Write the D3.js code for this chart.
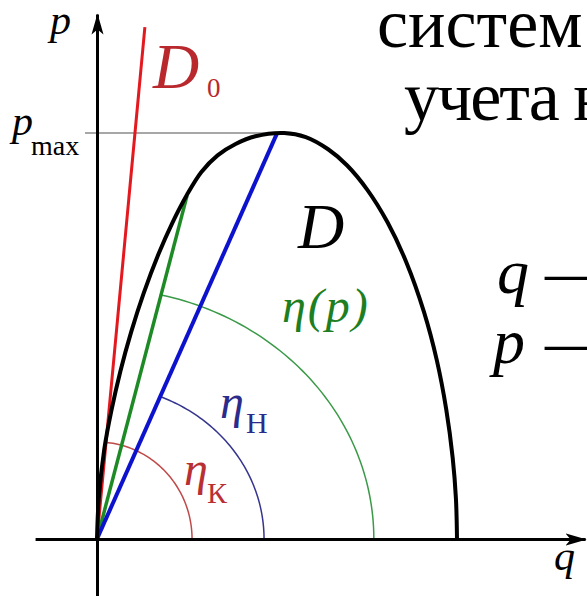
<!DOCTYPE html>
<html>
<head>
<meta charset="utf-8">
<script src="https://cdn.jsdelivr.net/npm/d3@7"></script>
<style>
  body { margin: 0; background: #fff; }
  svg { display: block; }
  text { font-family: "Liberation Serif", "Times New Roman", serif; }
</style>
</head>
<body>
<svg id="chart" width="587" height="596"></svg>
<script>
// boundary D of the region in the (q, p) plane, p in units of p_max
const boundaryQ = [0, 0.005, 0.02, 0.04, 0.065, 0.095, 0.13, 0.17, 0.21, 0.25, 0.29, 0.335, 0.385, 0.44, 0.52,
                   0.58, 0.642, 0.695, 0.751, 0.807, 0.86, 0.908, 0.944, 0.97, 0.988, 0.997, 1.0];
const boundaryP = [0, 0.1, 0.22, 0.316, 0.413, 0.51, 0.606, 0.70, 0.78, 0.848, 0.904, 0.945, 0.973, 0.992, 1.0,
                   0.99, 0.96, 0.92, 0.86, 0.78, 0.68, 0.56, 0.44, 0.32, 0.2, 0.1, 0];

// rays from the origin: D0, eta(p) and the one through p_max
const rayNames = ["D0", "eta_p", "eta_H"];
const rayQ = [0.133, 0.25, 0.5];
const rayP = [1.261, 0.845, 0.999];

// angle arcs: semi-axes along q and p, and the ray each one ends on
const arcNames = ["eta_K", "eta_H", "eta_p"];
const arcRq = [0.264, 0.464, 0.769];
const arcRp = [0.239, 0.379, 0.618];
const arcRay = ["D0", "eta_H", "eta_p"];

const pMax = 1.0;
const qAtPmax = 0.5;
const qExtent = [-0.172, 1.356];
const pExtent = [-0.14, 1.293];

const svg = d3.select("#chart");

let x = d3.scaleLinear().domain([0, 1]).range([97, 457]);
let y = d3.scaleLinear().domain([0, 1]).range([539, 133]);

const rayColor = {D0: "#e3191f", eta_p: "#1e8a26", eta_H: "#0d12cc"};
const rayWidth = {D0: 3, eta_p: 3.5, eta_H: 4};
const arcColor = {eta_K: "#c04a4a", eta_H: "#35358f", eta_p: "#3b9a48"};

let line = d3.line().x(d => x(d[0])).y(d => y(d[1]));

// p_max guide
svg.append("line")
    .attr("x1", x(0) - 12).attr("y1", y(pMax))
    .attr("x2", x(qAtPmax)).attr("y2", y(pMax))
    .attr("stroke", "#8a8a8a").attr("stroke-width", 1.6);

// arcs
arcNames.forEach((name, i) => {
    let r = rayNames.indexOf(arcRay[i]);
    let tEnd = Math.atan2(rayP[r] / arcRp[i], rayQ[r] / arcRq[i]);
    let pts = d3.range(0, 61).map(k => {
        let t = tEnd * k / 60;
        return [arcRq[i] * Math.cos(t), arcRp[i] * Math.sin(t)];
    });
    svg.append("path")
        .datum(pts)
        .attr("fill", "none")
        .attr("stroke", arcColor[name])
        .attr("stroke-width", 1.5)
        .attr("d", line);
});

// rays
rayNames.forEach((name, i) => {
    svg.append("path")
        .datum([[0, 0], [rayQ[i], rayP[i]]])
        .attr("fill", "none")
        .attr("stroke", rayColor[name])
        .attr("stroke-width", rayWidth[name])
        .attr("d", line);
});

// boundary D
svg.append("path")
    .datum(boundaryQ.map((q, i) => [q, boundaryP[i]]))
    .attr("fill", "none")
    .attr("stroke", "#000")
    .attr("stroke-width", 4)
    .attr("d", d3.line().x(d => x(d[0])).y(d => y(d[1])).curve(d3.curveCatmullRom.alpha(0.5)));

// axes with arrow heads
svg.append("defs").append("marker")
    .attr("id", "arrow")
    .attr("markerUnits", "userSpaceOnUse")
    .attr("viewBox", "0 -7 22 14")
    .attr("refX", 20).attr("refY", 0)
    .attr("markerWidth", 22).attr("markerHeight", 14)
    .attr("orient", "auto")
    .append("path")
    .attr("d", "M0,-6L21,0L0,6L5,0Z")
    .attr("fill", "#000");

let qAxis = d3.scaleLinear().domain(qExtent).range(qExtent.map(x));
let pAxis = d3.scaleLinear().domain(pExtent).range(pExtent.map(y));

let gq = svg.append("g")
    .attr("transform", "translate(0," + y(0) + ")")
    .call(d3.axisBottom(qAxis).tickValues([]).tickSizeOuter(0));
let gp = svg.append("g")
    .attr("transform", "translate(" + x(0) + ",0)")
    .call(d3.axisLeft(pAxis).tickValues([]).tickSizeOuter(0));
[gq, gp].forEach(g => g.select(".domain")
    .attr("stroke", "#000")
    .attr("stroke-width", 3)
    .attr("marker-end", "url(#arrow)"));

// labels
function label(txt, px, py, size, color, italic, spacing) {
    svg.append("text")
        .attr("x", px).attr("y", py)
        .attr("font-size", size)
        .attr("font-style", italic ? "italic" : "normal")
        .attr("letter-spacing", spacing || 0)
        .attr("fill", color)
        .text(txt);
}

label("p", 50, 34, 42, "#000", true);
label("q", 554, 570, 42, "#000", true);
label("p", 12, 135, 42, "#000", true);
label("max", 31, 155, 28, "#000", false);
label("D", 153, 88, 64, "#b8282c", true);
label("0", 207, 97, 27, "#b8282c", false);
label("D", 298, 248, 64, "#000", true);
label("η(p)", 282, 322, 48, "#1e7f22", true, 2);
label("η", 220, 418, 48, "#2b2b8c", true);
label("Н", 246, 433, 30, "#2b2b8c", false);
label("η", 184, 485, 48, "#b83034", true);
label("К", 207, 503, 30, "#b83034", false);

// slide text on the right
label("систем", 377, 47, 70, "#000", false);
label("учета н", 404, 120, 70, "#000", false, -2);
label("q", 497, 293, 64, "#000", true);
label("—", 545, 293, 64, "#000", false);
label("p", 493, 363, 64, "#000", true);
label("—", 545, 363, 64, "#000", false);
</script>
</body>
</html>
